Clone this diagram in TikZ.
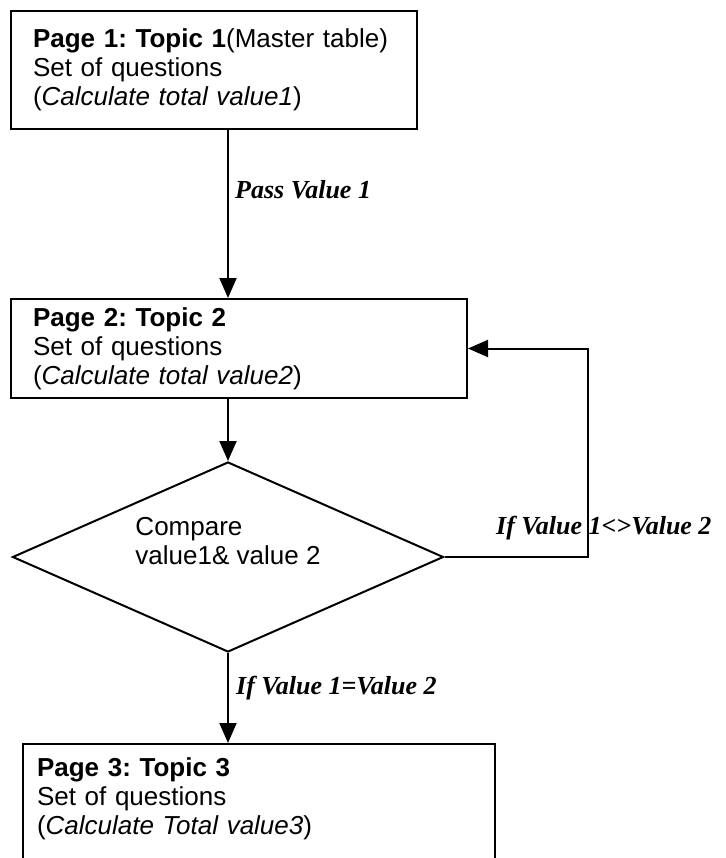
\documentclass[tikz,border=0pt]{standalone}
\usepackage{fontspec}
\setmainfont{Liberation Sans}
\newfontfamily\lblfont{Liberation Serif}
\frenchspacing
\usetikzlibrary{arrows.meta,positioning,calc,shapes.geometric}
\tikzset{
  box/.style={draw=black, line width=2pt, fill=white, inner ysep=0pt, align=left, font=\fontsize{26}{29}\selectfont},
  decision/.style={diamond, draw=black, line width=2pt, fill=white, inner sep=0pt, font=\fontsize{26}{29}\selectfont, minimum width=431pt, minimum height=190pt},
  flow/.style={-{Triangle[length=20pt,width=17pt]}, line width=2pt, draw=black},
  lbl/.style={font=\lblfont\bfseries\itshape\fontsize{26}{29}\selectfont, inner sep=0pt, anchor=west},
}
\begin{document}
\begin{tikzpicture}[x=1pt,y=-1pt]
  \useasboundingbox (0,0) rectangle (725,858);
  % pages
  \node[box,text width=362pt,inner xsep=22pt,minimum height=118pt,anchor=north west](pg1) at (10,10){\textbf{Page 1: Topic 1}(Master table)\\Set of questions\\(\textit{Calculate total value1})};
  \node[box,text width=412pt,inner xsep=22pt,minimum height=99pt,anchor=north west](pg2) at (10,298){\textbf{Page 2: Topic 2}\\Set of questions\\(\textit{Calculate total value2})};
  \node[box,text width=444pt,inner xsep=14pt,minimum height=130pt,text depth=83pt,anchor=north west](pg3) at (22,743){\textbf{Page 3: Topic 3}\\Set of questions\\(\textit{Calculate Total value3})};
  % compare
  \node[decision](cmp) at (228,557){\raisebox{7pt}[0pt][0pt]{\begin{tabular}{@{}l@{}}Compare\\value1\& value 2\end{tabular}}};
  % arrows
  \draw[flow] (cmp |- pg1.south) -- (cmp |- pg2.north);
  \draw[flow] (cmp |- pg2.south) -- (cmp.north);
  \draw[flow] (cmp.south) -- (cmp |- pg3.north);
  \draw[flow] (cmp.east) -- ++(143,0) |- (pg2.east);
  % labels
  \node[lbl](passlbl) at (235,190){Pass Value 1};
  \node[lbl](nelbl) at (496,528){If Value 1<>Value 2};
  \node[lbl](eqlbl) at (236,688){If Value 1=Value 2};
\end{tikzpicture}
\end{document}
